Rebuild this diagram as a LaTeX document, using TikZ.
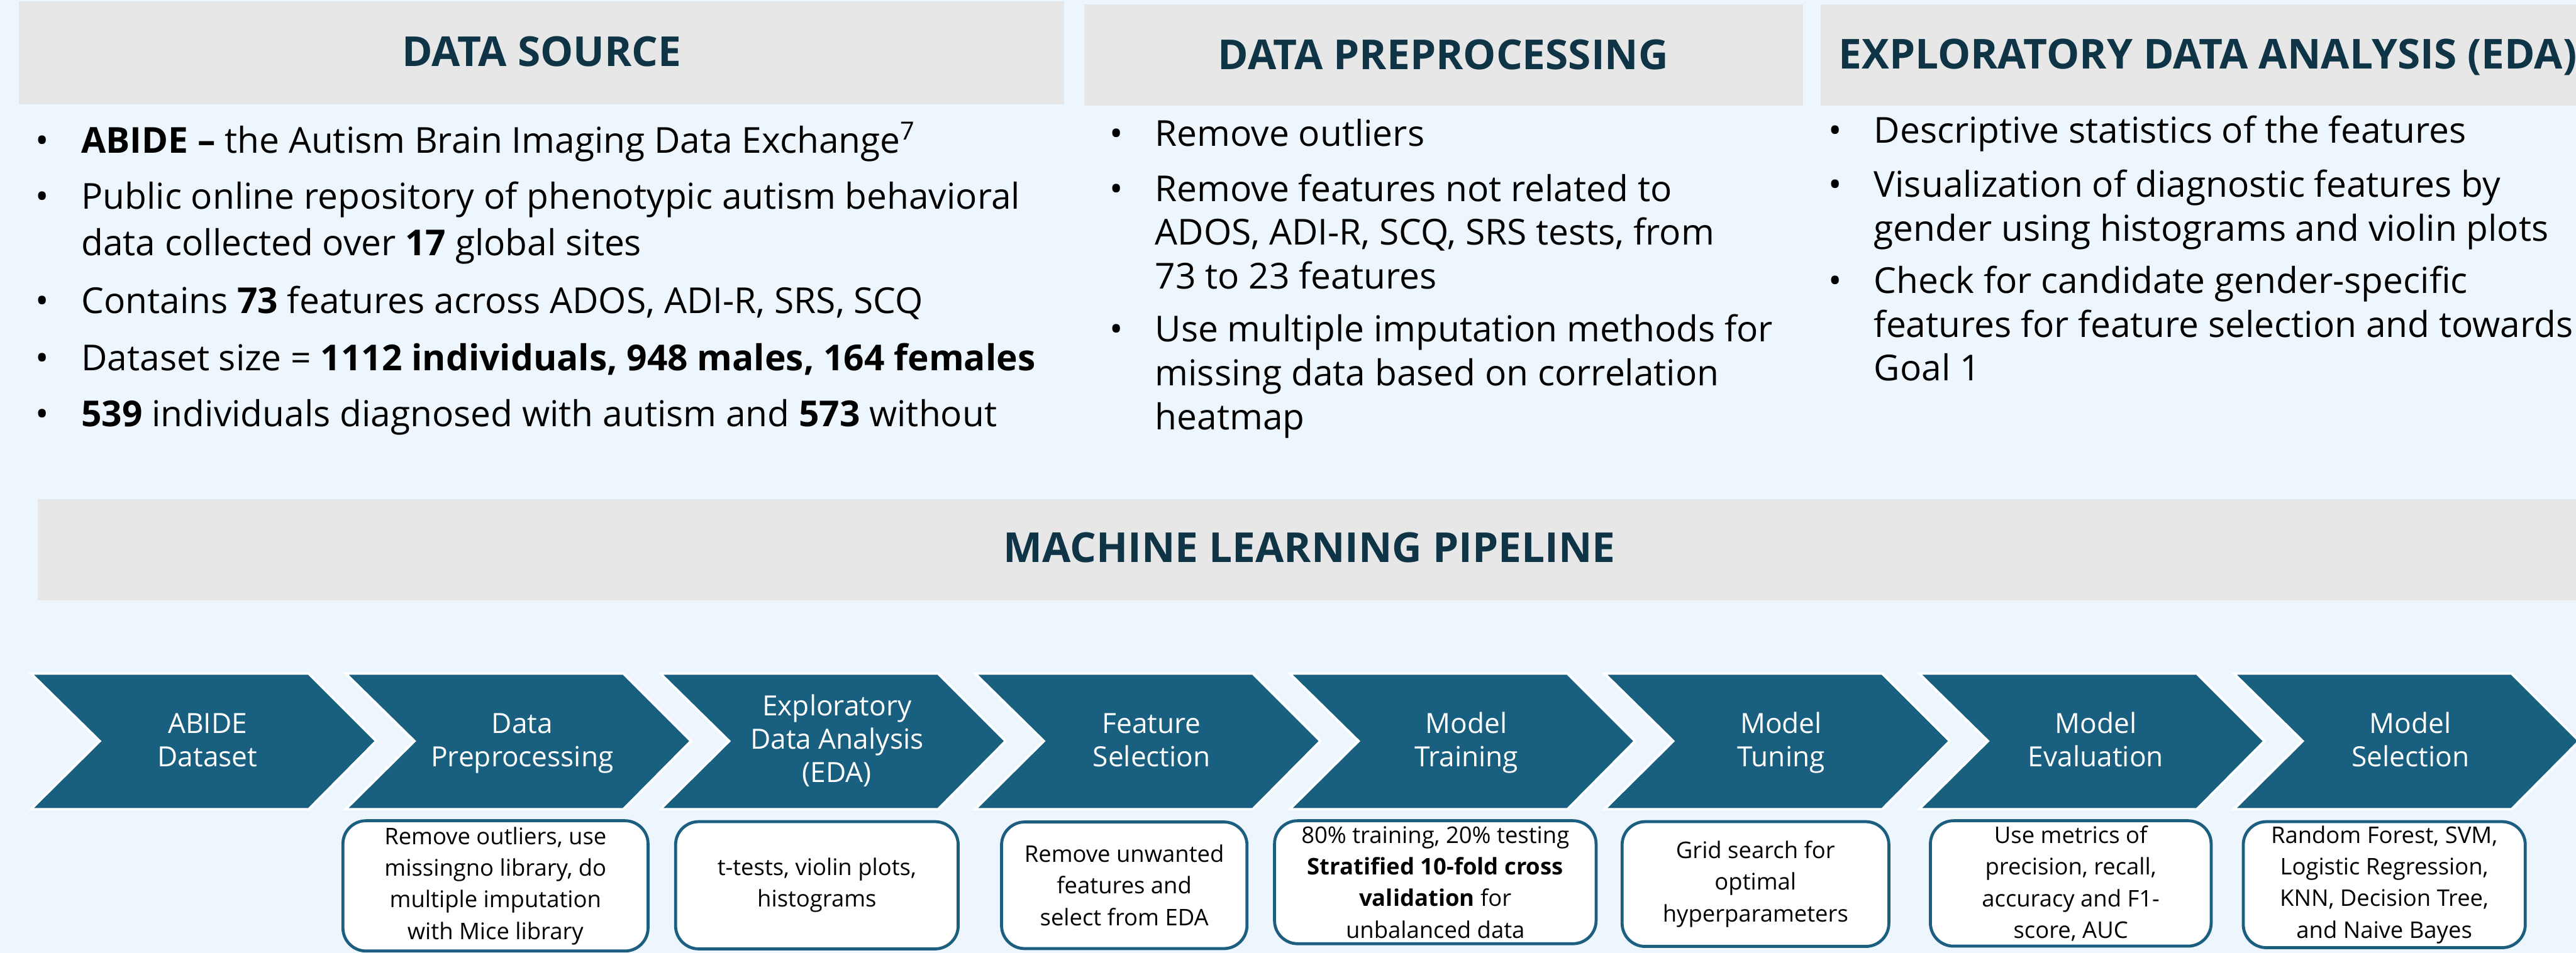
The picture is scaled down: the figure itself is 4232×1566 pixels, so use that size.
\documentclass[tikz,border=0pt]{standalone}
\usepackage{fontspec}
\setmainfont{Open Sans}

\definecolor{pagebg}{HTML}{EEF6FD}
\definecolor{headgray}{HTML}{E7E7E7}
\definecolor{headnavy}{HTML}{0E3446}
\definecolor{stagefill}{HTML}{185F80}
\definecolor{noteline}{HTML}{1B5E80}

\newcommand{\headfont}{\fontsize{19.3}{23}\selectfont\bfseries}
\newcommand{\bodyfont}{\fontsize{16.7}{20.5}\selectfont}
\newcommand{\stagefont}{\fontsize{13}{15.6}\selectfont}
\newcommand{\notefont}{\fontsize{10.7}{14.8}\selectfont}
\newcommand{\itembul}{\llap{\textbullet\hspace{15pt}}}

\begin{document}
\begin{tikzpicture}[x=0.01cm, y=-0.01cm]
        \tikzstyle{head}=[font=\headfont, text=headnavy, anchor=base, inner sep=0pt]
        \tikzstyle{item}=[font=\bodyfont, anchor=base west, align=left, inner sep=0pt]
        \tikzstyle{stage-label}=[font=\stagefont, text=white, anchor=base, align=center, inner sep=0pt]
        \tikzstyle{note}=[draw=noteline, fill=white, line width=1.4pt, rounded corners=0.38cm, font=\notefont, align=center, inner sep=0pt]
        \useasboundingbox (0,0) rectangle (4232,1566);
        \fill[pagebg] (0,0) rectangle (4232,1566);

        % header bars
        \fill[headgray] (31,2) rectangle (1748,171);
        \fill[headgray] (1781,7) rectangle (2962,174);
        \fill[headgray] (2991,7) rectangle (4240,174);
        \fill[headgray] (62,820) rectangle (4240,987);

        \node[head] (src-title) at (890,109) {DATA SOURCE};
        \node[head] (prep-title) at (2371,114) {DATA PREPROCESSING};
        \node[head] (eda-title) at (3627,113) {EXPLORATORY DATA ANALYSIS (EDA)};
        \node[head] (ml-title) at (2151,924) {MACHINE LEARNING PIPELINE};

        % data source (multi-line items sit on their last baseline)
        \node[item] (src-1) at (133,252) {\itembul\textbf{ABIDE –} the Autism Brain Imaging Data Exchange\textsuperscript{7}};
        \node[item, font=\fontsize{16.7}{21.6}\selectfont] (src-2) at (133,420) {\itembul Public online repository of phenotypic autism behavioral\\data collected over \textbf{17} global sites};
        \node[item] (src-3) at (133,515) {\itembul Contains \textbf{73} features across ADOS, ADI-R, SRS, SCQ};
        \node[item] (src-4) at (133,609) {\itembul Dataset size = \textbf{1112 individuals, 948 males, 164 females}};
        \node[item] (src-5) at (133,701) {\itembul\textbf{539} individuals diagnosed with autism and \textbf{573} without};

        % preprocessing
        \node[item] (prep-1) at (1897,240) {\itembul Remove outliers};
        \node[item] (prep-2) at (1897,475) {\itembul Remove features not related to\\ADOS, ADI-R, SCQ, SRS tests, from\\73 to 23 features};
        \node[item] (prep-3) at (1897,706) {\itembul Use multiple imputation methods for\\missing data based on correlation\\heatmap};

        % eda
        \node[item] (eda-1) at (3078,235) {\itembul Descriptive statistics of the features};
        \node[item] (eda-2) at (3078,396) {\itembul Visualization of diagnostic features by\\gender using histograms and violin plots};
        \node[item] (eda-3) at (3078,626) {\itembul Check for candidate gender-specific\\features for feature selection and towards\\Goal 1};

        % pipeline chevrons
        \foreach \i/\lbl in {0/{ABIDE\\Dataset}, 1/{Data\\Preprocessing},
                2/{Exploratory\\Data Analysis\\(EDA)}, 3/{Feature\\Selection},
                4/{Model\\Training}, 5/{Model\\Tuning},
                6/{Model\\Evaluation}, 7/{Model\\Selection}} {
            \pgfmathsetmacro{\xo}{51+517*\i}
            \pgfmathsetmacro{\by}{\i==2 ? 1286 : 1260}
            \filldraw[fill=stagefill, draw=white, line width=1.1pt, line join=miter]
                (\xo,1107) -- ++(456,0) -- ++(111,111) -- ++(-111,112) -- ++(-456,0) -- ++(113,-112) -- cycle;
            \node[stage-label] (stage-\i) at (\xo+290,\by) {\lbl};
        }

        % notes under the chevrons
        \node[note, minimum width=5.01cm, minimum height=2.14cm] (note-prep) at (814,1456) {Remove outliers, use\\missingno library, do\\multiple imputation\\with Mice library};
        \node[note, minimum width=4.64cm, minimum height=2.09cm] (note-eda) at (1342,1455) {t-tests, violin plots,\\histograms};
        \node[note, minimum width=4.03cm, minimum height=2.08cm] (note-feat) at (1847,1455) {Remove unwanted\\features and\\select from EDA};
        \node[note, minimum width=5.28cm, minimum height=2.02cm] (note-train) at (2358,1450) {80\% training, 20\% testing\\\textbf{Stratified 10-fold cross}\\\textbf{validation} for\\unbalanced data};
        \node[note, minimum width=4.38cm, minimum height=2.05cm] (note-tune) at (2884,1453) {Grid search for\\optimal\\hyperparameters};
        \node[note, minimum width=4.61cm, minimum height=2.06cm] (note-eval) at (3402,1452) {Use metrics of\\precision, recall,\\accuracy and F1-\\score, AUC};
        \node[note, minimum width=4.63cm, minimum height=2.07cm] (note-sel) at (3917,1454) {Random Forest, SVM,\\Logistic Regression,\\KNN, Decision Tree,\\and Naive Bayes};
\end{tikzpicture}
\end{document}
